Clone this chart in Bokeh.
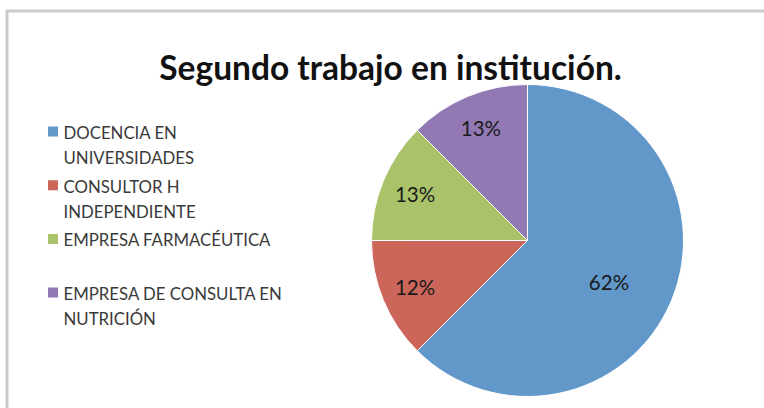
import math
from bokeh.plotting import figure
from bokeh.models import ColumnDataSource, Range1d
from bokeh.core.properties import value
from bokeh.embed import file_html
from bokeh.resources import INLINE

# ---- data ----
title = "Segundo trabajo en institución."
categories = ["DOCENCIA EN\nUNIVERSIDADES",
              "CONSULTOR H\nINDEPENDIENTE",
              "EMPRESA FARMACÉUTICA",
              "EMPRESA DE CONSULTA EN\nNUTRICIÓN"]
shares = [62.5, 12.5, 12.5, 12.5]
pct_labels = ["62%", "12%", "13%", "13%"]
colors = ["#6197C9", "#CC655A", "#AAC36A", "#9279B3"]

# ---- layout (screen pixel helpers) ----
W, H = 764, 408
def sx(x):
    return x
def sy(y):
    return H - y

p = figure(width=W, height=H, x_range=Range1d(0, W), y_range=Range1d(0, H),
           output_backend="svg", toolbar_location=None, min_border=0,
           x_axis_type=None, y_axis_type=None)
p.grid.visible = False
p.outline_line_color = None
p.background_fill_color = "white"
p.border_fill_color = "white"

# frame border (one polyline)
p.line(x=[sx(6.5), sx(6.5), W + 20], y=[-20, sy(10.5), sy(10.5)],
       line_color="#CACACA", line_width=3, line_join="miter")

# pie
cx, cy, r = sx(527), sy(240), 156
total = sum(shares)
starts, ends, mids = [], [], []
cum = 0.0
for s in shares:
    a0 = math.pi / 2 - cum / total * 2 * math.pi
    cum += s
    a1 = math.pi / 2 - cum / total * 2 * math.pi
    starts.append(a0); ends.append(a1); mids.append((a0 + a1) / 2)

src = ColumnDataSource(dict(start=starts, end=ends, color=colors))
p.wedge(x=cx, y=cy, radius=r, start_angle="start", end_angle="end", direction="clock",
        fill_color="color", line_color="white", line_width=1, source=src)

fracs = [0.6, 0.78, 0.78, 0.78]
lx = [cx + f * r * math.cos(m) for f, m in zip(fracs, mids)]
ly = [cy + f * r * math.sin(m) for f, m in zip(fracs, mids)]
lx[0] -= 5; ly[0] -= 6
p.text(x=lx, y=ly, text=pct_labels, text_align="center", text_baseline="middle",
       text_font=value("Lato"), text_font_size="20.5px", text_color="#1A1A1A")

# legend
sq_x, sq_y = [], []
tx, ty, tt = [], [], []
for i, cat in enumerate(categories):
    base = 132 + i * 53.7
    sq_x.append(sx(52.5)); sq_y.append(sy(base - 1))
    for j, line in enumerate(cat.split("\n")):
        tx.append(sx(63)); ty.append(sy(base + j * 25)); tt.append(line)
p.rect(x=sq_x, y=sq_y, width=10, height=10, fill_color=colors, line_color=None)
p.text(x=tx, y=ty, text=tt, text_align="left", text_baseline="middle",
       text_font=value("Lato"), text_font_size="16.8px", text_color="#3A3A3A")

# title
p.text(x=[sx(390)], y=[sy(66)], text=[title], text_align="center", text_baseline="alphabetic",
       text_font=value("Lato"), text_font_size="33.5px", text_font_style="bold", text_color="#111111")

open("out.html", "w").write(file_html(p, INLINE))
